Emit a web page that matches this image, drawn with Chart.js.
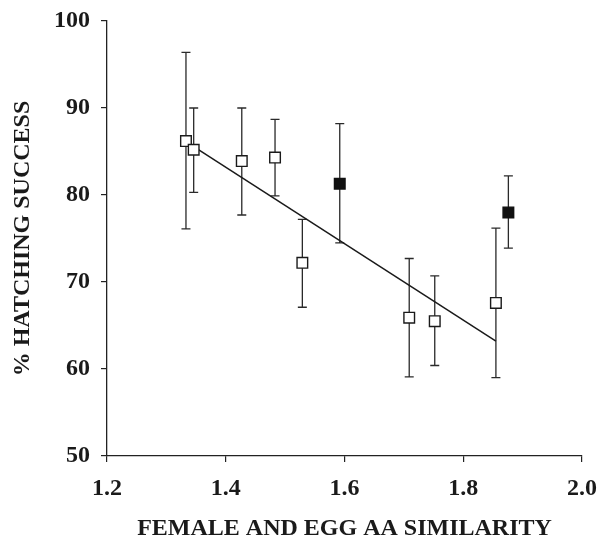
<!DOCTYPE html>
<html>
<head>
<meta charset="utf-8">
<script src="https://cdn.jsdelivr.net/npm/chart.js@4.4.1/dist/chart.umd.min.js"></script>
<style>
  html, body { margin: 0; padding: 0; background: #fff; }
  #wrap { width: 599px; height: 541px; }
</style>
</head>
<body>
<div id="wrap"><canvas id="chart" width="599" height="541"></canvas></div>
<script>
/* ---------- DATA ---------- */

const simOpen = [1.333, 1.346, 1.427, 1.483, 1.529, 1.709, 1.752, 1.855];
const hatchOpen = [86.2, 85.2, 83.9, 84.3, 72.2, 65.9, 65.5, 67.6];
const upperOpen = [96.4, 90.0, 90.0, 88.7, 77.2, 72.7, 70.7, 76.2];
const lowerOpen = [76.1, 80.3, 77.7, 79.9, 67.1, 59.1, 60.4, 59.0];

const simFilled = [1.592, 1.876];
const hatchFilled = [81.3, 78.0];
const upperFilled = [88.2, 82.2];
const lowerFilled = [74.5, 73.9];

const fitX = [1.352, 1.855];
const fitY = [85.3, 63.2];

const xTicks = [1.2, 1.4, 1.6, 1.8, 2.0];
const yTicks = [50, 60, 70, 80, 90, 100];

const FONT = "'Liberation Serif', 'Times New Roman', serif";

/* ---------- HELPERS ---------- */

function toPoints(xs, ys) {
  return xs.map((x, i) => ({ x, y: ys[i] }));
}

/* ---------- PLUGIN: ERROR BARS ---------- */

const errorBars = {
  id: "errorBars",
  beforeDatasetsDraw(chart) {
    const { ctx, scales: { x, y } } = chart;
    const sets = [
      [simOpen, upperOpen, lowerOpen],
      [simFilled, upperFilled, lowerFilled]
    ];
    ctx.save();
    ctx.strokeStyle = "#2a2a2a";
    ctx.lineWidth = 1.3;
    const cap = 4.5;
    sets.forEach(([xs, hi, lo]) => {
      xs.forEach((v, i) => {
        const px = x.getPixelForValue(v);
        const top = y.getPixelForValue(hi[i]);
        const bot = y.getPixelForValue(lo[i]);
        ctx.beginPath();
        ctx.moveTo(px, top);
        ctx.lineTo(px, bot);
        ctx.moveTo(px - cap, top);
        ctx.lineTo(px + cap, top);
        ctx.moveTo(px - cap, bot);
        ctx.lineTo(px + cap, bot);
        ctx.stroke();
      });
    });
    ctx.restore();
  }
};

/* ---------- CHART ---------- */

new Chart(document.getElementById("chart"), {
  type: "scatter",
  data: {
    datasets: [
      {
        label: "fit",
        type: "line",
        data: toPoints(fitX, fitY),
        borderColor: "#1a1a1a",
        borderWidth: 1.5,
        pointRadius: 0,
        fill: false,
        order: 3
      },
      {
        label: "open",
        data: toPoints(simOpen, hatchOpen),
        pointStyle: "rect",
        pointRadius: 7.5,
        pointBackgroundColor: "#ffffff",
        pointBorderColor: "#1a1a1a",
        pointBorderWidth: 1.4,
        order: 1
      },
      {
        label: "filled",
        data: toPoints(simFilled, hatchFilled),
        pointStyle: "rect",
        pointRadius: 7.5,
        pointBackgroundColor: "#111111",
        pointBorderColor: "#111111",
        pointBorderWidth: 1.4,
        order: 1
      }
    ]
  },
  options: {
    responsive: false,
    animation: false,
    layout: { padding: { top: 21, right: 17, left: 0, bottom: 0 } },
    plugins: {
      legend: { display: false },
      tooltip: { enabled: false }
    },
    scales: {
      x: {
        type: "linear",
        min: 1.2,
        max: 2.0,
        afterBuildTicks(scale) {
          scale.ticks = xTicks.map(v => ({ value: v }));
        },
        afterFit(scale) {
          scale.height = 85;
          scale.paddingLeft = 0;
          scale.paddingRight = 0;
        },
        grid: { drawOnChartArea: false, drawTicks: true, tickLength: 6, color: "#222", lineWidth: 1.2 },
        border: { display: true, color: "#222", width: 1.3 },
        ticks: {
          padding: 12,
          color: "#1a1a1a",
          font: { family: FONT, size: 24, weight: "bold" },
          callback: v => Number(v).toFixed(1)
        },
        title: {
          display: true,
          text: "FEMALE AND EGG AA SIMILARITY",
          color: "#1a1a1a",
          font: { family: FONT, size: 24, weight: "bold", lineHeight: 1.0 },
          padding: { top: 0, bottom: 0 }
        }
      },
      y: {
        type: "linear",
        min: 50,
        max: 100,
        afterBuildTicks(scale) {
          scale.ticks = yTicks.map(v => ({ value: v }));
        },
        afterFit(scale) {
          scale.width = 107;
          scale.paddingTop = 0;
          scale.paddingBottom = 0;
        },
        grid: { drawOnChartArea: false, drawTicks: true, tickLength: 6, color: "#222", lineWidth: 1.2 },
        border: { display: true, color: "#222", width: 1.3 },
        ticks: {
          padding: 11,
          color: "#1a1a1a",
          font: { family: FONT, size: 24, weight: "bold" }
        },
        title: {
          display: true,
          text: "% HATCHING SUCCESS",
          color: "#1a1a1a",
          font: { family: FONT, size: 24, weight: "bold" },
          padding: { top: 8, bottom: 0 }
        }
      }
    }
  },
  plugins: [errorBars]
});
</script>
</body>
</html>
